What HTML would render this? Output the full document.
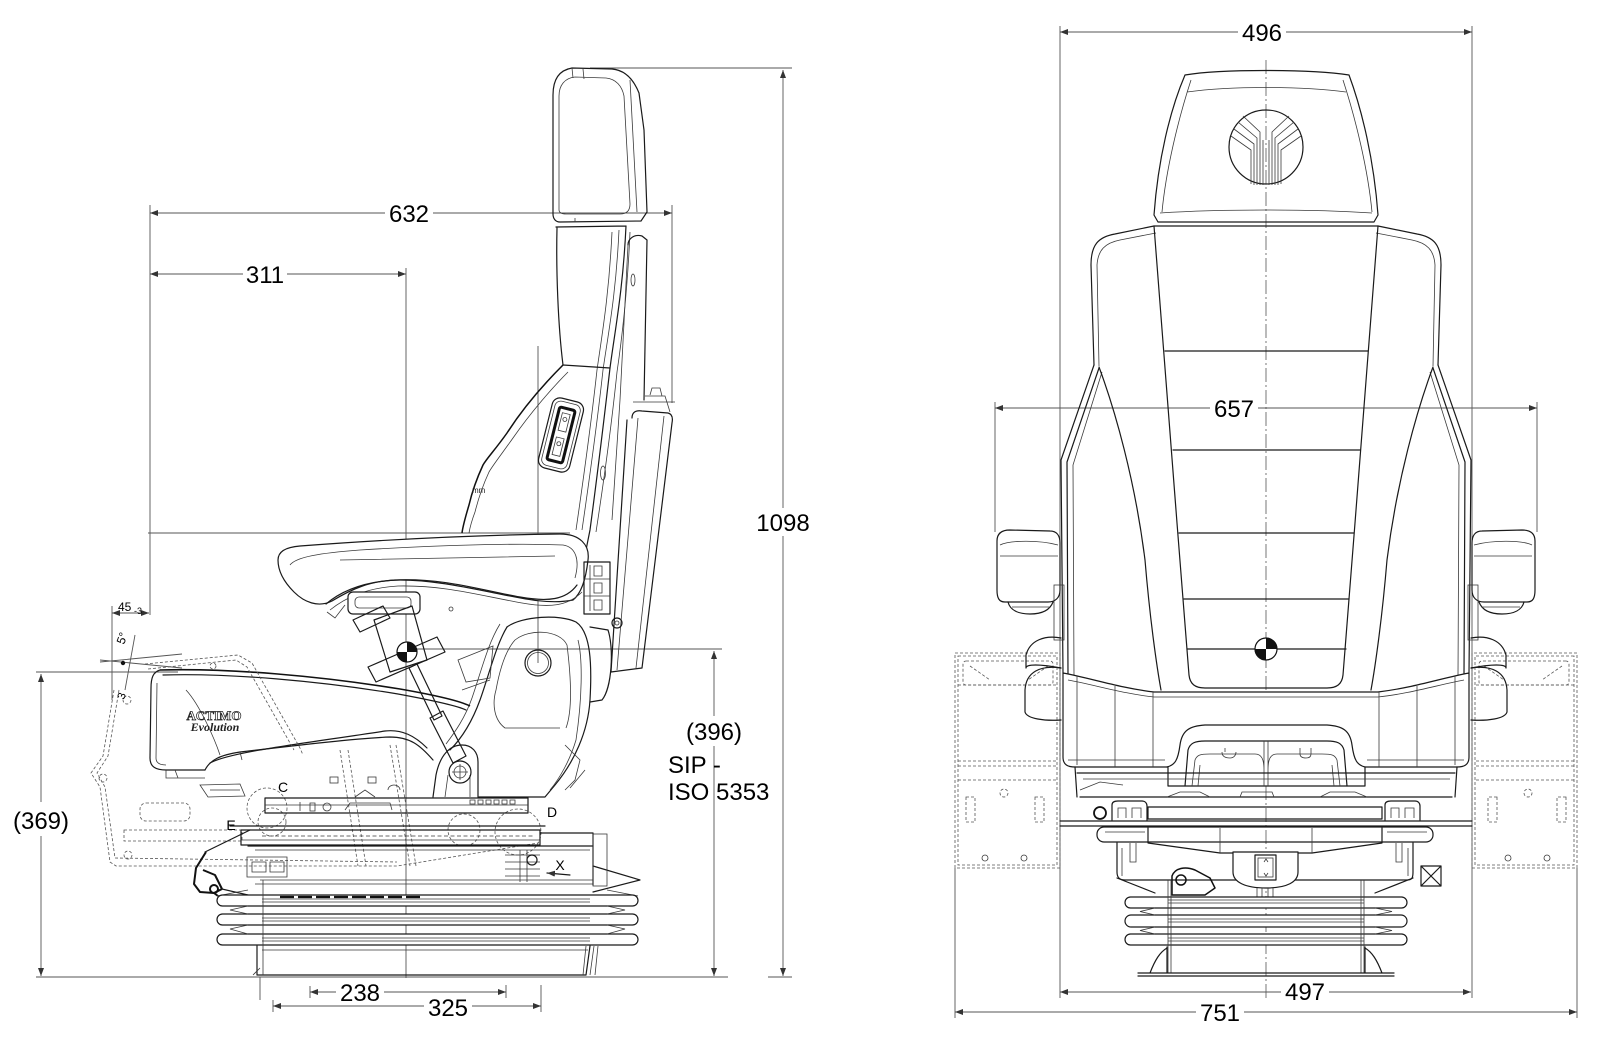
<!DOCTYPE html>
<html><head><meta charset="utf-8">
<style>
html,body{margin:0;padding:0;background:#fff;}
svg{display:block;}
.d{stroke:#555;stroke-width:0.9;fill:none}
.t{font-family:"Liberation Sans",Arial,sans-serif;font-size:24px;fill:#000;text-anchor:middle}
.o{stroke:#1a1a1a;stroke-width:1.2;fill:none;stroke-linejoin:round;stroke-linecap:round}
.ow{stroke:#1a1a1a;stroke-width:1.2;fill:#fff;stroke-linejoin:round}
.o2{stroke:#3a3a3a;stroke-width:0.8;fill:none}
.th{stroke:#111;stroke-width:2;fill:none;stroke-linejoin:round}
.ds{stroke:#555;stroke-width:0.8;fill:none;stroke-dasharray:3 2}
.cl{stroke:#555;stroke-width:0.8;fill:none;stroke-dasharray:14 3 2 3}
.lb{font-family:"Liberation Sans",Arial,sans-serif;font-size:14px;fill:#000;text-anchor:middle}
</style></head><body>
<svg width="1619" height="1046" viewBox="0 0 1619 1046" xmlns="http://www.w3.org/2000/svg">
<defs>
<marker id="a" markerWidth="8" markerHeight="6" refX="8" refY="3" orient="auto-start-reverse" markerUnits="userSpaceOnUse"><path d="M0,0 L8,3 L0,6 Z" fill="#333"/></marker>
</defs>

<!-- ================= SIDE VIEW : construction / dimension lines ================= -->
<g class="d">
  <line x1="150" y1="205" x2="150" y2="615"/>
  <line x1="406" y1="268" x2="406" y2="978"/>
  <line x1="538" y1="346" x2="538" y2="663"/>
  <line x1="672" y1="205" x2="672" y2="403"/>
  <line x1="148" y1="533" x2="570" y2="533"/>
  <line x1="407" y1="649" x2="722" y2="649"/>
  <line x1="590" y1="68" x2="792" y2="68"/>
  <line x1="36" y1="672" x2="178" y2="672"/>
  <line x1="36" y1="977" x2="728" y2="977"/>
  <line x1="768" y1="977" x2="792" y2="977"/>
  <line x1="112" y1="606" x2="112" y2="700"/>
  <line x1="260" y1="977" x2="260" y2="1000"/>
  <line x1="541" y1="985" x2="541" y2="1012"/>
  <line x1="506" y1="985" x2="506" y2="998"/>
  <line x1="310" y1="986" x2="310" y2="998"/>
  <line x1="273" y1="1000" x2="273" y2="1012"/>
  <line x1="150" y1="213" x2="672" y2="213" marker-start="url(#a)" marker-end="url(#a)"/>
  <line x1="150" y1="274" x2="406" y2="274" marker-start="url(#a)" marker-end="url(#a)"/>
  <line x1="783" y1="70" x2="783" y2="976" marker-start="url(#a)" marker-end="url(#a)"/>
  <line x1="714" y1="651" x2="714" y2="976" marker-start="url(#a)" marker-end="url(#a)"/>
  <line x1="41" y1="674" x2="41" y2="976" marker-start="url(#a)" marker-end="url(#a)"/>
  <line x1="310" y1="992" x2="506" y2="992" marker-start="url(#a)" marker-end="url(#a)"/>
  <line x1="273" y1="1006" x2="541" y2="1006" marker-start="url(#a)" marker-end="url(#a)"/>
  <line x1="112" y1="613" x2="149" y2="613" marker-start="url(#a)" marker-end="url(#a)"/>
  <!-- 5 deg fan -->
  <line x1="100" y1="660" x2="182" y2="668"/>
  <line x1="100" y1="662" x2="182" y2="654"/>
  <line x1="125" y1="690" x2="135" y2="635"/>
</g>

<!-- ================= SIDE VIEW : seat drawing ================= -->
<g>
  <!-- headrest -->
  <path class="o" d="M553,214 L553,95 C553,78 560,70 572,68 L612,69 C624,70 633,78 639,93 L644,130 L647,212 L641,221 L560,222 C555,222 553,218 553,214 Z"/>
  <path class="o2" d="M559,210 L559,96 C559,85 565,78 575,77 L606,78 C616,79 622,86 624,96 L630,204 C630,211 626,214 620,214 L566,214 C561,214 559,212 559,210 Z"/>
  <path class="o2" d="M630,80 L637,212 M572,68 L573,78 M583,69 L584,79 M575,218 L575,222"/>
  <!-- backrest upper -->
  <path class="o" d="M557,228 C556,270 558,325 563,365 M556,227 L626,226 M626,226 C623,290 615,330 610,368 C604,420 598,470 590,530 L584,560"/>
  <path class="o2" d="M619,230 C616,295 608,335 603,370 C597,425 590,475 582,530"/>
  <path class="o2" d="M612,232 C609,295 602,335 597,370 C591,425 584,475 576,530"/>
  <path class="o2" d="M630,232 C627,300 621,345 617,372 C611,430 604,480 596,532"/>
  <!-- side cover -->
  <path class="o" d="M628,245 C628,238 635,234 642,236 L647,240 L644,400"/>
  <path class="o2" d="M628,245 L620,400 L612,520"/>
  <ellipse class="o2" cx="633" cy="280" rx="2" ry="6"/>
  <ellipse class="o2" cx="603" cy="473" rx="2.5" ry="7"/>
  <!-- rear panel -->
  <path class="o" d="M632,418 C632,412 636,410 642,411 L668,413 C672,414 673,418 672,423 L642,668 L611,672 L627,420"/>
  <path class="o2" d="M638,418 L617,670 M664,416 L636,668 M645,396 L665,396 L670,412 M650,395 L652,388 L660,388 L662,396 M633,402 L675,402"/>
  <!-- lumbar -->
  <path class="o" d="M563,365 L610,368"/>
  <path class="th" style="stroke-width:1.5" d="M563,365 C548,380 525,405 507,433 C495,450 487,458 483,465 C477,478 472,492 469,505 C466,515 463,525 462,533"/>
  <path class="o2" d="M568,372 C553,387 531,412 513,438 C501,455 493,465 489,472 C483,485 478,500 475,512 C472,520 470,527 469,533"/>
  <!-- control panel on backrest -->
  <g transform="translate(561,435) rotate(14)">
    <rect class="o" x="-16" y="-36" width="32" height="72" rx="8"/>
    <rect class="o2" x="-13" y="-33" width="26" height="66" rx="6"/>
    <rect x="-8" y="-27" width="16" height="54" rx="2" fill="none" stroke="#111" stroke-width="3"/>
    <rect class="o2" x="-4" y="-22" width="8" height="18"/>
    <rect class="o2" x="-4" y="3" width="8" height="18"/>
    <circle class="o2" cx="0" cy="-16" r="2"/>
    <circle class="o2" cx="0" cy="9" r="2"/>
  </g>
  <text x="472" y="493" style="font-family:'Liberation Sans',sans-serif;font-size:8px" fill="#222">mm</text>

  <!-- armrest -->
  <path class="ow" d="M278,560 C278,551 287,547 300,546 C380,540 470,535 560,534 C580,534 590,545 588,560 C586,578 582,593 573,600 C548,605 520,598 490,592 C460,586 430,580 400,580 C370,580 350,590 332,601 C318,608 304,602 294,592 C284,582 278,571 278,560 Z"/>
  <path class="o2" d="M290,565 C296,557 320,553 360,550 C440,545 520,543 563,545 C576,547 580,560 575,578"/>
  <path class="o" d="M326,604 C340,592 362,582 395,580 C445,578 480,590 520,597 C548,602 566,600 577,585"/>
  <path class="o2" d="M330,610 C345,598 365,588 398,586 C445,585 482,596 522,603 C550,608 568,606 582,592"/>
  <path class="o2" d="M340,560 L555,556 M327,612 L335,618 L345,605"/>
  <rect class="ow" x="348" y="592" width="72" height="22" rx="5"/>
  <rect class="o2" x="355" y="597" width="56" height="11" rx="4"/>
  <circle class="o2" cx="451" cy="609" r="2"/>
  <!-- switch block -->
  <rect class="o" x="584" y="562" width="26" height="52"/>
  <path class="o2" d="M584,579 H610 M584,596 H610 M590,565 V611 M594,566 h8 v10 h-8z M594,583 h8 v10 h-8z M594,600 h8 v10 h-8z"/>
  <circle class="o" cx="617" cy="623" r="5"/>
  <circle class="o2" cx="617" cy="623" r="2"/>

  <!-- lever block + strut -->
  <path class="o" d="M353,620 L383,606 L390,618 L360,632 Z"/>
  <path class="o" d="M374,620 L412,606 L427,660 L390,672 Z"/>
  <path class="o" d="M368,667 L437,637 L445,652 L376,682 Z"/>
  <path class="o" d="M409,668 L417,664 L442,716 L434,720 Z"/>
  <path class="o" d="M430,718 L443,711 L466,756 L453,763 Z"/>
  <circle cx="407" cy="652" r="10" fill="#fff" stroke="#111" stroke-width="1.2"/>
  <path d="M407,652 L407,642 A10,10 0 0 1 417,652 Z M407,652 L407,662 A10,10 0 0 1 397,652 Z" fill="#111"/>
  <!-- pivot bracket -->
  <path class="o" d="M433,797 L436,775 C440,755 450,745 462,745 C472,745 478,752 478,762 L478,797"/>
  <path class="o2" d="M445,797 L448,775 M470,797 L470,775"/>
  <circle class="o" cx="460" cy="772" r="11"/>
  <circle class="o2" cx="460" cy="772" r="6"/>
  <path class="o2" d="M452,772 H468 M460,764 V780"/>
  <!-- housing -->
  <path class="o" d="M507,627 C522,616 560,614 576,622 C591,632 592,665 590,700 C588,732 574,762 555,785 L545,797 L479,797"/>
  <path class="o" d="M507,627 C496,645 489,675 480,700 C472,722 462,738 450,750"/>
  <path class="o2" d="M500,624 C488,643 481,672 472,698 C465,718 455,732 446,744"/>
  <path class="o2" d="M515,640 C530,628 560,630 567,645 C572,685 572,712 566,728 M560,728 L505,728 C494,720 492,704 496,690 C500,668 506,650 515,640"/>
  <path class="o2" d="M578,640 C583,660 582,700 576,740 C570,760 560,778 550,790"/>
  <circle class="o" cx="538" cy="663" r="13"/>
  <circle class="o2" cx="538" cy="663" r="10.5"/>
  <path class="o" d="M590,627 L608,630 C614,648 612,688 602,700 L590,702"/>
  <path class="o2" d="M458,660 L493,646 L490,678 L466,682 Z M462,690 L490,680"/>
  <path class="o2" d="M565,745 L580,760 L575,780 L565,790 M570,788 L585,770"/>
  <!-- seat cushion -->
  <path class="th" style="stroke-width:1.6" d="M160,670 C230,668 320,676 400,689 C440,696 462,702 470,706"/>
  <path class="o" d="M163,675 C230,673 320,681 398,694 C436,701 458,706 466,710"/>
  <path class="o" d="M160,670 C153,672 151,678 151,688 L150,758 C150,767 156,770 166,770 L205,770"/>
  <path class="o2" d="M157,683 L156,758 C156,763 160,765 166,765"/>
  <path class="o" d="M205,770 C210,760 220,755 240,752 C300,745 360,738 390,737 C410,737 420,745 433,760"/>
  <path class="o" d="M210,763 C230,752 300,744 385,731 C402,729 415,736 427,748"/>
  <path class="o2" d="M166,770 L166,778 L205,778 M175,770 L178,778 M240,752 L242,760"/>
  <path class="o2" d="M186,690 C200,705 215,740 220,755"/>
  <!-- ACTIMO Evolution -->
  <text x="214" y="720" text-anchor="middle" style="font-family:'Liberation Serif',serif;font-size:13px;font-weight:bold" fill="#fff" stroke="#222" stroke-width="0.7">ACTIMO</text>
  <text x="215" y="731" text-anchor="middle" style="font-family:'Liberation Serif',serif;font-size:12px;font-style:italic;font-weight:bold" fill="#222">Evolution</text>

  <!-- dashed tilted cushion & front leg -->
  <path class="ds" d="M145,664 L238,655 L252,663 L300,748 L303,755"/>
  <path class="ds" d="M148,669 L236,660 L247,667 L294,750"/>
  <path class="ds" d="M114,690 L103,756 L91,773 L100,787 L110,862 L116,866 L397,866 L538,843"/>
  <path class="ds" d="M119,690 L108,756 L97,773 L105,787 L115,858 L397,862"/>
  <rect class="ds" x="140" y="803" width="50" height="18" rx="6"/>
  <rect class="ds" x="124" y="830" width="118" height="11"/>
  <path class="ds" d="M340,750 L358,866 M348,750 L366,866 M390,745 L410,866 M396,745 L416,866"/>
  <circle class="ds" cx="267" cy="808" r="20"/>
  <circle class="ds" cx="272" cy="822" r="14"/>
  <circle class="ds" cx="464" cy="830" r="16"/>
  <circle class="ds" cx="518" cy="832" r="23"/>
  <circle class="ds" cx="127" cy="700" r="4"/>
  <circle class="ds" cx="103" cy="778" r="4"/>
  <circle class="ds" cx="128" cy="855" r="4"/>
  <circle class="ds" cx="213" cy="666" r="3"/>

  <!-- seat frame small parts -->
  <rect class="o2" x="330" y="777" width="8" height="6"/>
  <rect class="o2" x="368" y="777" width="8" height="6"/>
  <path class="o2" d="M200,785 L240,784 L245,796 L208,797 Z M210,790 L240,790"/>
  <path class="o2" d="M355,797 L365,790 L375,797 M388,790 a6,5 0 1 1 12,0"/>
  <!-- upper rail -->
  <rect class="o" x="265" y="798" width="263" height="15"/>
  <path class="o2" d="M265,805 H528 M345,810 L350,803 H390 L392,810 M300,802 v9 M310,803 h5 v8 h-5z"/>
  <circle class="o2" cx="327" cy="807" r="4"/>
  <path class="o2" d="M470,800 h5 v4 h-5z M478,800 h5 v4 h-5z M486,800 h5 v4 h-5z M494,800 h5 v4 h-5z M502,800 h5 v4 h-5z M510,800 h5 v4 h-5z"/>
  <!-- lower rail -->
  <path class="o" d="M230,826 H545"/>
  <rect class="o" x="241" y="830" width="299" height="15"/>
  <path class="o2" d="M241,840 H540" />
  <path class="o2" stroke-dasharray="4 2.5" stroke-width="4" stroke="#444" d="M262,836 H535"/>
  <path class="o" d="M540,833 H593 V846"/>
  <!-- suspension box -->
  <path class="o" d="M248,846 H593 V885"/>
  <path class="o2" d="M255,850 H590 M260,880 H593 M255,884 H593"/>
  <path class="o" d="M593,866 L640,880 L593,892"/>
  <rect class="o2" x="593" y="834" width="14" height="52"/>
  <path class="o2" d="M247,857 h40 v20 h-40z M252,862 h14 v10 h-14z M270,862 h14 v10 h-14z"/>
  <path class="o2" d="M505,855 h35 M505,862 h35 M505,869 h35 M505,876 h35 M520,850 v32 M527,850 v32"/>
  <circle class="o" cx="532" cy="860" r="5"/>
  <path class="o" d="M570,875 L547,873" marker-end="url(#a)"/>
  <!-- front latch (dark) -->
  <path class="th" d="M206,852 L196,868 L194,884 L200,892 L214,893 L222,889 M203,870 L215,875 L222,889 M214,893 L218,896"/>
  <circle cx="214" cy="889" r="4" fill="none" stroke="#111" stroke-width="2"/>
  <path class="o" d="M205,852 L250,830 M222,889 L248,895"/>
  <!-- bellows -->
  <path class="o2" d="M248,890 L217,896 M607,890 L638,896"/>
  <rect class="ow" x="217" y="895" width="421" height="11" rx="5.5"/>
  <rect class="ow" x="217" y="914" width="421" height="11" rx="5.5"/>
  <rect class="ow" x="217" y="934" width="421" height="11" rx="5.5"/>
  <path class="o2" d="M248,906 L230,910 L248,914 M248,925 L230,929 L248,934 M607,906 L625,910 L607,914 M607,925 L625,929 L607,934"/>
  <path class="o2" d="M262,899 H590 M262,902 H590 M262,918 H590 M262,921 H590 M262,938 H590 M262,941 H590"/>
  <path class="th" stroke-dasharray="14 4" d="M280,897 H421" style="stroke-width:2.2"/>
  <!-- base -->
  <path class="o" d="M257,946 L257,975 L586,975 L590,946"/>
  <path class="o2" d="M263,880 V975 M253,975 L260,968 M586,946 L583,975 M594,946 L590,975 M598,946 L595,975 M262,950 H588"/>
  <!-- labels -->
  <text class="lb" x="283" y="792">C</text>
  <text class="lb" x="231" y="830">E</text>
  <text class="lb" x="552" y="817">D</text>
  <text class="lb" x="560" y="870">X</text>
</g>

<!-- SIDE VIEW dimension texts -->
<g>
  <rect x="385" y="200" width="48" height="26" fill="#fff"/>
  <text class="t" x="409" y="222">632</text>
  <rect x="243" y="261" width="44" height="26" fill="#fff"/>
  <text class="t" x="265" y="283">311</text>
  <rect x="754" y="508" width="58" height="28" fill="#fff"/>
  <text class="t" x="783" y="531">1098</text>
  <rect x="684" y="716" width="60" height="30" fill="#fff"/>
  <text class="t" x="714" y="740">(396)</text>
  <rect x="666" y="752" width="46" height="24" fill="#fff"/>
  <text class="t" x="668" y="773" style="text-anchor:start">SIP -</text>
  <rect x="666" y="779" width="46" height="25" fill="#fff"/>
  <rect x="717" y="779" width="60" height="25" fill="#fff"/>
  <text class="t" x="668" y="800" style="text-anchor:start">ISO 5353</text>
  <rect x="12" y="802" width="60" height="34" fill="#fff"/>
  <text class="t" x="41" y="829">(369)</text>
  <rect x="336" y="980" width="48" height="24" fill="#fff"/>
  <text class="t" x="360" y="1001">238</text>
  <rect x="424" y="995" width="48" height="24" fill="#fff"/>
  <text class="t" x="448" y="1016">325</text>
  <text x="118" y="611" style="font-family:'Liberation Sans',sans-serif;font-size:12px" fill="#000">45</text>
  <text x="134" y="614" style="font-family:'Liberation Sans',sans-serif;font-size:9px" fill="#000">-3</text>
  <text x="0" y="0" transform="translate(124,645) rotate(-70)" style="font-family:'Liberation Sans',sans-serif;font-size:12px" fill="#000">5°</text>
  <text x="0" y="0" transform="translate(124,700) rotate(-70)" style="font-family:'Liberation Sans',sans-serif;font-size:11px" fill="#000">3</text>
  <circle cx="123" cy="663" r="2.2" fill="#111"/>
</g>

<!-- ================= FRONT VIEW ================= -->
<g class="d">
  <line x1="1060" y1="26" x2="1060" y2="998"/>
  <line x1="1472" y1="26" x2="1472" y2="998"/>
  <line x1="995" y1="402" x2="995" y2="532"/>
  <line x1="1537" y1="402" x2="1537" y2="532"/>
  <line x1="955" y1="868" x2="955" y2="1018"/>
  <line x1="1577" y1="868" x2="1577" y2="1018"/>
  <line x1="1060" y1="32" x2="1472" y2="32" marker-start="url(#a)" marker-end="url(#a)"/>
  <line x1="995" y1="408" x2="1537" y2="408" marker-start="url(#a)" marker-end="url(#a)"/>
  <line x1="1060" y1="992" x2="1471" y2="992" marker-start="url(#a)" marker-end="url(#a)"/>
  <line x1="955" y1="1012" x2="1577" y2="1012" marker-start="url(#a)" marker-end="url(#a)"/>
</g>
<line class="cl" x1="1266" y1="60" x2="1266" y2="1000"/>

<g>
  <!-- brackets (dashed) -->
  <g id="brk">
    <rect class="ds" x="955" y="653" width="105" height="215"/>
    <rect class="ds" x="958" y="656" width="99" height="209"/>
    <rect class="ds" x="963" y="661" width="90" height="24" rx="3"/>
    <path class="ds" d="M958,685 H1057 M958,761 H1057 M958,766 H1057 M958,780 H1057"/>
    <rect class="ds" x="966" y="797" width="9" height="25"/>
    <rect class="ds" x="1035" y="797" width="9" height="25"/>
    <circle class="ds" cx="1004" cy="793" r="4"/>
    <circle class="o2" cx="985" cy="858" r="3"/>
    <circle class="o2" cx="1024" cy="858" r="3"/>
    <path class="ds" d="M970,666 L990,680 M1048,666 L1028,680"/>
  </g>
  <use href="#brk" transform="translate(2532,0) scale(-1,1)"/>

  <!-- headrest -->
  <path class="o" d="M1185,75 C1220,69 1312,69 1349,75 C1362,110 1374,160 1378,215 L1374,222 L1158,222 L1154,215 C1158,160 1170,110 1185,75 Z"/>
  <path class="o2" d="M1187,92 C1230,86 1302,86 1346,92 M1160,213 C1220,209 1312,209 1372,213 M1191,80 C1178,120 1166,170 1162,212 M1343,80 C1356,120 1368,170 1372,212"/>
  <circle class="o" cx="1266" cy="147" r="37"/>
  <path class="o2" d="M1231,136 L1251,150 L1251,184 M1234,129 L1254,144 L1254,185 M1238,122 L1257,138 L1257,185 M1243,116 L1260,132 L1260,185
                      M1301,136 L1281,150 L1281,184 M1298,129 L1278,144 L1278,185 M1294,122 L1275,138 L1275,185 M1289,116 L1272,132 L1272,185
                      M1263,140 V185 M1269,140 V185"/>
  <!-- backrest -->
  <path class="o" d="M1094,365 L1091,265 C1091,245 1098,237 1115,234 L1154,226 L1378,226 L1417,234 C1434,237 1441,245 1441,265 L1438,365"/>
  <path class="o2" d="M1099,366 L1097,265 C1098,250 1105,243 1120,240 L1156,233 M1433,366 L1435,265 C1434,250 1427,243 1412,240 L1376,233"/>
  <path class="o" d="M1094,365 L1061,460 L1063,673 M1438,365 L1471,460 L1469,673"/>
  <path class="o" d="M1099,368 L1067,462 L1068,675 M1433,368 L1465,462 L1464,675"/>
  <path class="o2" d="M1102,372 L1073,465 L1074,676 M1430,372 L1459,465 L1458,676"/>
  <path class="o" d="M1099,367 C1115,410 1135,480 1145,560 C1150,620 1157,668 1161,690 M1433,367 C1417,410 1397,480 1387,560 C1382,620 1375,668 1371,690"/>
  <path class="o" d="M1154,226 L1177,523 L1189,675 C1190,684 1195,688 1205,688 L1327,688 C1337,688 1342,684 1343,675 L1355,523 L1378,226"/>
  <path class="o" d="M1165,351 H1368 M1173,450 H1360 M1179,533 H1354 M1184,599 H1349 M1187,649 H1346"/>
  <circle cx="1266" cy="649" r="11" fill="#fff" stroke="#111" stroke-width="1.2"/>
  <path d="M1266,649 L1266,638 A11,11 0 0 1 1277,649 Z M1266,649 L1266,660 A11,11 0 0 1 1255,649 Z" fill="#111"/>

  <!-- armrests -->
  <g id="arm">
    <path class="ow" d="M997,541 C997,533 1002,530 1010,530 L1050,531 C1057,531 1060,536 1060,543 L1060,590 C1060,598 1055,602 1048,602 L1005,602 C999,602 997,598 997,590 Z"/>
    <path class="o2" d="M1000,556 H1058 M1000,545 C1010,540 1040,540 1058,545"/>
    <path class="o" d="M1008,602 C1010,610 1018,614 1030,614 C1042,614 1050,610 1053,602"/>
    <path class="o2" d="M1012,607 H1050"/>
    <rect class="o2" x="1054" y="585" width="10" height="55"/>
    <path class="o" d="M1061,638 C1045,635 1030,640 1026,655 L1026,668 C1026,664 1040,664 1061,668"/>
    <path class="o" d="M1061,668 C1040,665 1026,672 1025,690 L1025,712 C1027,719 1045,721 1061,720"/>
  </g>
  <use href="#arm" transform="translate(2532,0) scale(-1,1)"/>

  <!-- cushion -->
  <path class="ow" d="M1063,673 C1090,678 1120,688 1154,692 L1378,692 C1412,688 1442,678 1469,673 L1469,757 C1469,765 1464,767 1457,767 L1365,767 L1365,786 L1168,786 L1168,767 L1075,767 C1068,767 1063,765 1063,757 Z"/>
  <path class="o2" d="M1068,680 C1095,685 1125,694 1154,697 L1378,697 C1408,694 1438,685 1464,680"/>
  <path class="o2" d="M1077,676 V765 M1115,686 V767 M1153,692 V767 M1379,692 V767 M1417,686 V767 M1455,676 V765 M1068,760 H1165 M1367,760 H1464"/>
  <path class="o" d="M1167,767 C1175,765 1178,760 1180,745 C1182,730 1190,726 1205,725 L1327,725 C1342,726 1350,730 1352,745 C1354,760 1357,765 1365,767"/>
  <path class="o" d="M1185,786 L1188,750 C1190,743 1195,741 1205,741 L1327,741 C1337,741 1342,743 1344,750 L1347,786"/>
  <path class="o2" d="M1192,786 L1195,760 C1197,755 1200,754 1210,754 L1255,754 C1262,754 1264,760 1264,770 L1264,786 M1340,786 L1337,760 C1335,755 1332,754 1322,754 L1277,754 C1270,754 1268,760 1268,770 L1268,786 M1264,741 V786 M1268,741 V786 M1198,786 L1200,765 M1334,786 L1332,765"/>
  <path class="o2" d="M1222,752 c0,5 4,6 8,6 c4,0 6,-3 6,-6 M1225,748 v4 M1300,748 v6 c0,3 3,4 6,4 c3,0 5,-1 5,-4 v-6"/>

  <!-- under-frame -->
  <path class="o" d="M1075,767 L1077,797 M1457,767 L1455,797 M1077,773 H1455 M1080,797 H1452"/>
  <path class="o2" d="M1083,779 H1450 M1167,797 L1180,792 H1200 L1210,797 M1240,797 L1242,792 H1272 L1274,797 M1320,797 L1330,792 H1355 L1367,797 M1080,790 L1100,782 L1123,785"/>
  <rect class="o" x="1148" y="807" width="234" height="12"/>
  <path class="o" d="M1112,820 V805 C1112,802 1115,801 1118,801 L1142,801 C1145,801 1147,803 1147,806 V820 M1385,820 V805 C1385,802 1388,801 1391,801 L1415,801 C1418,801 1420,803 1420,806 V820"/>
  <path class="o2" d="M1118,818 V808 H1126 V818 M1132,818 V808 H1141 V818 M1391,818 V808 H1399 V818 M1405,818 V808 H1414 V818"/>
  <circle cx="1100" cy="813" r="6" fill="none" stroke="#111" stroke-width="1.8"/>
  <path class="o" d="M1060,821 H1472 M1060,826 H1472"/>
  <rect class="o" x="1097" y="827" width="336" height="15" rx="7"/>
  <path class="o2" d="M1105,832 H1145 M1387,832 H1427"/>
  <path class="o" d="M1148,828 L1148,843 L1220,853 L1312,853 L1382,843 L1382,828"/>
  <path class="o2" d="M1220,828 V853 M1312,828 V853"/>
  <path class="o" d="M1117,843 L1117,872 C1117,878 1120,880 1125,880 L1407,880 C1412,880 1413,878 1413,872 L1413,843"/>
  <path class="o2" d="M1130,843 V862 H1136 V843 M1396,843 V862 H1402 V843 M1122,848 V876 M1408,848 V876"/>
  <path class="o" d="M1117,878 L1155,893 M1413,878 L1375,893"/>
  <path class="ow" d="M1233,852 L1233,872 C1233,882 1245,888 1266,888 C1287,888 1298,882 1298,872 L1298,852 Z"/>
  <rect class="o" x="1255" y="855" width="21" height="25"/>
  <rect class="o2" x="1258" y="858" width="15" height="19"/>
  <path class="o2" d="M1257,888 v9 h5 v-9 M1268,888 v9 h5 v-9 M1264,862 l2,-3 l2,3 M1264,873 l2,3 l2,-3"/>
  <path class="th" style="stroke-width:1.5" d="M1172,895 L1172,876 C1175,868 1185,866 1195,870 L1210,878 L1215,888 L1205,895 Z"/>
  <circle cx="1181" cy="880" r="5" fill="none" stroke="#111" stroke-width="1.5"/>
  <path class="o" d="M1421,866 h20 v20 h-20 z M1421,866 l20,20 M1441,866 l-20,20"/>
  <!-- bellows -->
  <rect class="ow" x="1125" y="897" width="282" height="11" rx="5.5"/>
  <rect class="ow" x="1125" y="915" width="282" height="12" rx="6"/>
  <rect class="ow" x="1125" y="934" width="282" height="11" rx="5.5"/>
  <path class="o2" d="M1155,908 L1140,911.5 L1155,915 M1155,927 L1140,930.5 L1155,934 M1375,908 L1392,911.5 L1375,915 M1375,927 L1392,930.5 L1375,934"/>
  <path class="o2" d="M1168,880 V973 M1171,880 V973 M1361,880 V973 M1364,880 V973 M1168,900 H1364 M1168,903 H1364 M1168,919 H1364 M1168,922 H1364 M1168,938 H1364 M1168,941 H1364"/>
  <!-- base -->
  <path class="o" d="M1167,947 V973 M1365,947 V973 M1138,973 H1394 M1138,976 H1394 M1150,973 C1155,960 1160,952 1167,948 M1382,973 C1377,960 1372,952 1365,948"/>
</g>

<!-- FRONT VIEW dimension texts -->
<g>
  <rect x="1238" y="19" width="48" height="26" fill="#fff"/>
  <text class="t" x="1262" y="41">496</text>
  <rect x="1210" y="395" width="48" height="26" fill="#fff"/>
  <text class="t" x="1234" y="417">657</text>
  <rect x="1281" y="979" width="48" height="25" fill="#fff"/>
  <text class="t" x="1305" y="1000">497</text>
  <rect x="1196" y="999" width="48" height="25" fill="#fff"/>
  <text class="t" x="1220" y="1021">751</text>
</g>
</svg>
</body></html>
